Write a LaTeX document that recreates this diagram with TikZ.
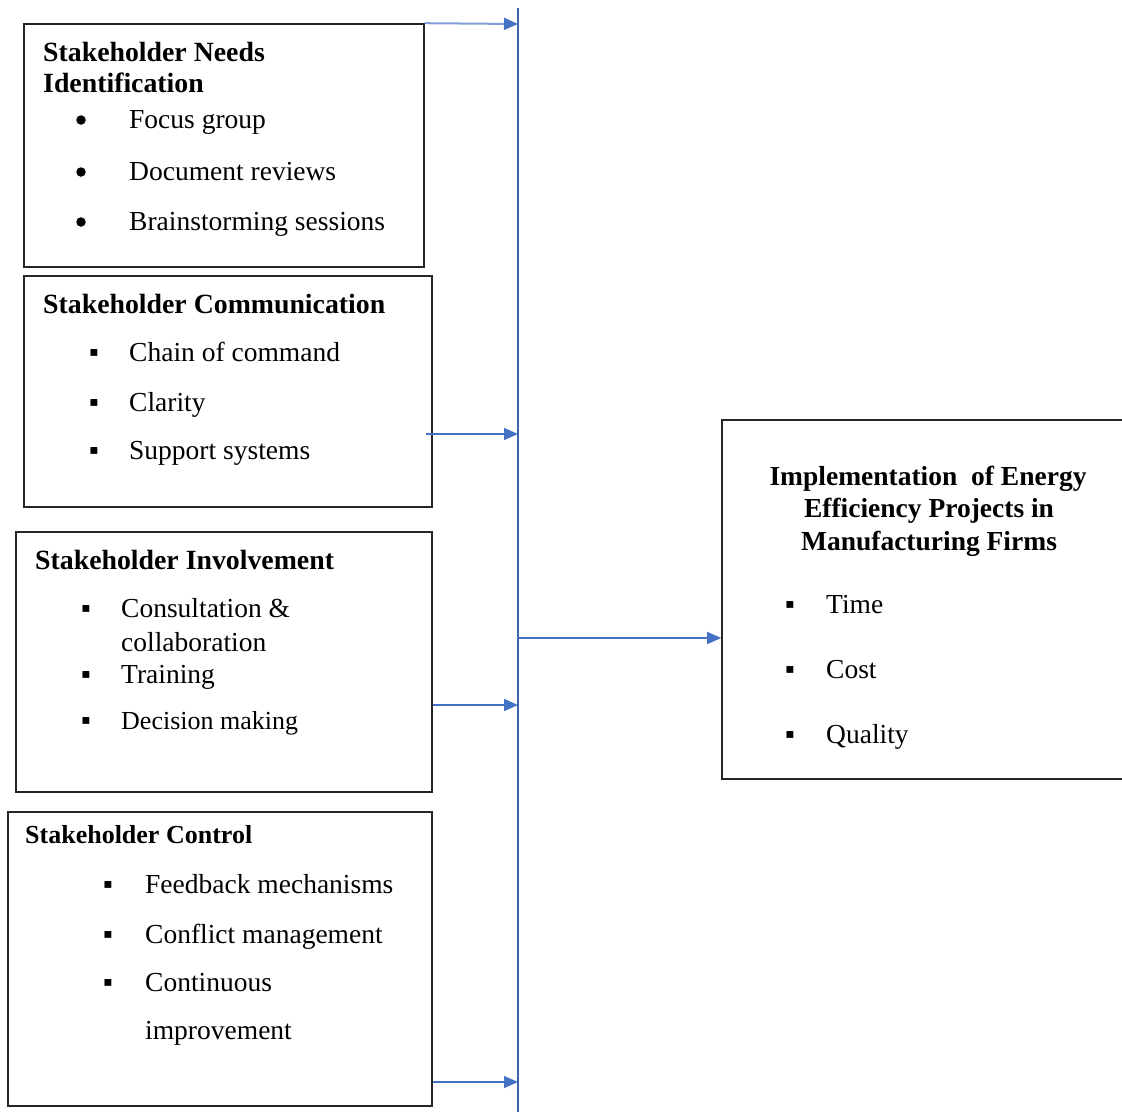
\documentclass[tikz,border=0pt]{standalone}
\usepackage{fontspec}
\setmainfont{Liberation Serif}
\usetikzlibrary{arrows.meta}
\definecolor{arrowblue}{HTML}{4472C4}
\definecolor{lightblue}{HTML}{7FA0D6}
\definecolor{trunkblue}{HTML}{3B64AD}
\begin{document}
\begin{tikzpicture}[x=1pt,y=-1pt,
  boxstyle/.style={draw=black!85,line width=1.6pt,rectangle,inner sep=0pt},
  txt/.style={anchor=base west,inner sep=0pt,font=\fontsize{27.5}{33}\selectfont},
  txtsm/.style={anchor=base west,inner sep=0pt,font=\fontsize{26}{31}\selectfont},
  head/.style={anchor=base west,inner sep=0pt,font=\fontsize{27.8}{33}\selectfont\bfseries},
  headsm/.style={anchor=base west,inner sep=0pt,font=\fontsize{26}{31}\selectfont\bfseries},
  rhead/.style={anchor=base,inner sep=0pt,font=\fontsize{27.5}{33}\selectfont\bfseries},
  rbul/.style={circle,fill=black,inner sep=0pt,minimum size=9.5pt},
  sbul/.style={anchor=base,inner sep=0pt,font=\fontsize{27.5}{33}\selectfont},
  arr/.style={-{Triangle[length=14pt,width=12pt,color=arrowblue]},color=arrowblue,line width=1.5pt}
]
\useasboundingbox (0,0) rectangle (1122,1112);

% boxes
\node[boxstyle,minimum width=400pt,minimum height=243pt] (n1) at (224,145.5) {};
\node[boxstyle,minimum width=408pt,minimum height=231pt] (n2) at (228,391.5) {};
\node[boxstyle,minimum width=416pt,minimum height=260pt] (n3) at (224,662) {};
\node[boxstyle,minimum width=424pt,minimum height=294pt] (n4) at (220,959) {};
\node[boxstyle,minimum width=404pt,minimum height=359pt] (nr) at (924,599.5) {};

% box 1
\node[head] (h1a) at (43,61) {Stakeholder Needs};
\node[head] (h1b) at (43,92) {Identification};
\node[rbul] (b1a) at (81,120) {};
\node[rbul] (b1b) at (81,172) {};
\node[rbul] (b1c) at (81,222) {};
\node[txt] (t1a) at (129,128) {Focus group};
\node[txt] (t1b) at (129,180) {Document reviews};
\node[txt] (t1c) at (129,230) {Brainstorming sessions};

% box 2
\node[head] (h2) at (43,313) {Stakeholder Communication};
\node[sbul] (b2a) at (94,361) {▪};
\node[sbul] (b2b) at (94,411) {▪};
\node[sbul] (b2c) at (94,459) {▪};
\node[txt] (t2a) at (129,361) {Chain of command};
\node[txt] (t2b) at (129,411) {Clarity};
\node[txt] (t2c) at (129,459) {Support systems};

% box 3
\node[head] (h3) at (35,569) {Stakeholder Involvement};
\node[sbul] (b3a) at (86,617) {▪};
\node[sbul] (b3b) at (86,683) {▪};
\node[sbul] (b3c) at (86,729) {▪};
\node[txt] (t3a) at (121,617) {Consultation \&};
\node[txt] (t3b) at (121,651) {collaboration};
\node[txt] (t3c) at (121,683) {Training};
\node[txtsm] (t3d) at (121,729) {Decision making};

% box 4
\node[headsm] (h4) at (25,843) {Stakeholder Control};
\node[sbul] (b4a) at (108,893) {▪};
\node[sbul] (b4b) at (108,943) {▪};
\node[sbul] (b4c) at (108,991) {▪};
\node[txt] (t4a) at (145,893) {Feedback mechanisms};
\node[txt] (t4b) at (145,943) {Conflict management};
\node[txt] (t4c) at (145,991) {Continuous};
\node[txt] (t4d) at (145,1039) {improvement};

% right box
\node[rhead] (hr1) at (928,485) {Implementation \ of Energy};
\node[rhead] (hr2) at (929,517) {Efficiency Projects in};
\node[rhead] (hr3) at (929,550) {Manufacturing Firms};
\node[sbul] (br1) at (790,613) {▪};
\node[sbul] (br2) at (790,678) {▪};
\node[sbul] (br3) at (790,743) {▪};
\node[txt] (tr1) at (826,613) {Time};
\node[txt] (tr2) at (826,678) {Cost};
\node[txt] (tr3) at (826,743) {Quality};

% trunk
\coordinate (top) at (518,8);
\coordinate (bot) at (518,1112);
\coordinate (k1) at (518,24);
\coordinate (k2) at (518,434);
\coordinate (a2) at (426,434);
\coordinate (k3) at (518,705);
\coordinate (k4) at (518,1082);
\coordinate (km) at (518,638);
\draw[trunkblue,line width=1.5pt] (top) -- (bot);

% connectors
\draw[arr,draw=lightblue,line width=2pt] (n1.north east) -- (k1);
\draw[arr] (a2) -- (k2);
\draw[arr] (n3.east |- k3) -- (k3);
\draw[arr] (n4.east |- k4) -- (k4);
\draw[arr] (km) -- (nr.west |- km);
\end{tikzpicture}
\end{document}
